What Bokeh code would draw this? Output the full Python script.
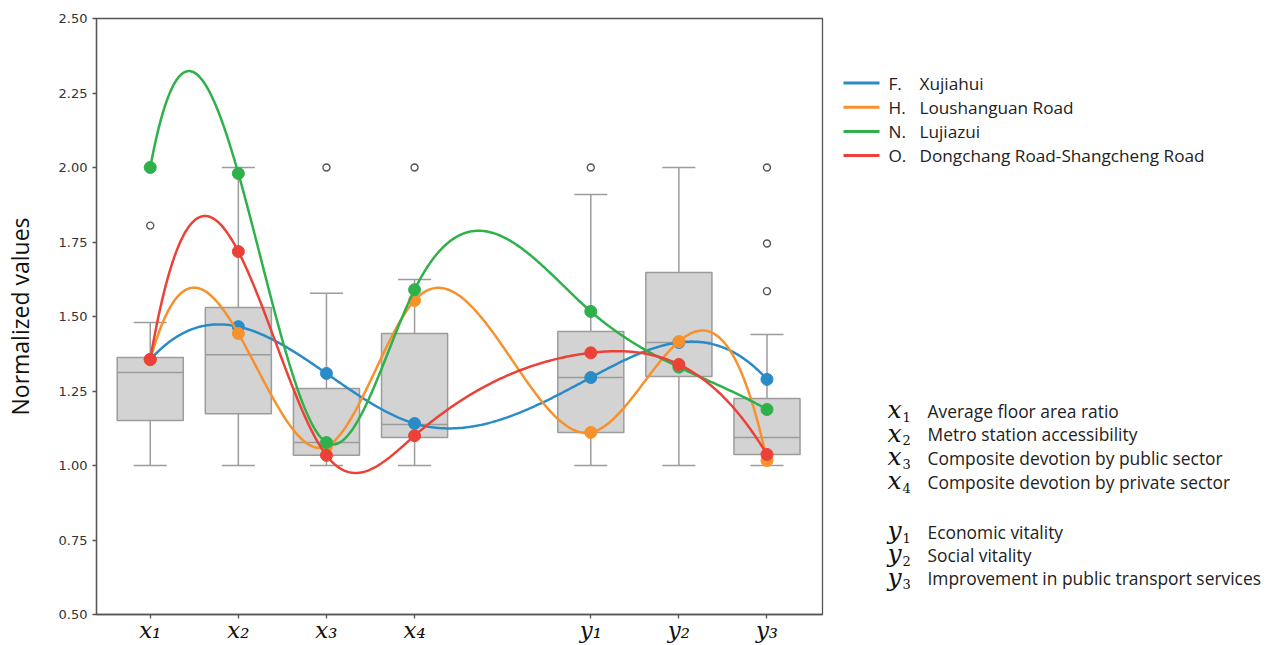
import numpy as np
from bokeh.plotting import figure
from bokeh.models import Range1d, FixedTicker, NumeralTickFormatter, ColumnDataSource
from bokeh.layouts import row
from bokeh.core.properties import value
from bokeh.embed import file_html
from bokeh.resources import INLINE

# ---------------- data ----------------
categories = ["x\u2081", "x\u2082", "x\u2083", "x\u2084", "y\u2081", "y\u2082", "y\u2083"]
positions = [0, 1, 2, 3, 5, 6, 7]

box_q1 = [1.151, 1.174, 1.034, 1.094, 1.111, 1.299, 1.037]
box_med = [1.312, 1.372, 1.077, 1.138, 1.295, 1.413, 1.094]
box_q3 = [1.362, 1.530, 1.258, 1.443, 1.450, 1.648, 1.225]
whisk_lo = [1.00, 1.00, 1.00, 1.00, 1.00, 1.00, 1.00]
whisk_hi = [1.48, 2.00, 1.578, 1.624, 1.909, 2.00, 1.440]

outlier_cat = [0, 2, 3, 4, 6, 6, 6]
outlier_val = [1.805, 2.00, 2.00, 2.00, 2.00, 1.745, 1.585]

series_names = ["F.", "H.", "N.", "O."]
series_labels = ["Xujiahui", "Loushanguan Road", "Lujiazui", "Dongchang Road-Shangcheng Road"]
series_F = [1.355, 1.466, 1.309, 1.141, 1.295, 1.413, 1.289]
series_H = [1.355, 1.443, 1.064, 1.554, 1.111, 1.416, 1.017]
series_N = [2.000, 1.980, 1.077, 1.590, 1.517, 1.330, 1.188]
series_O = [1.356, 1.718, 1.034, 1.100, 1.378, 1.339, 1.037]
series_colors = ["#2a8cc6", "#f6912c", "#2eb14b", "#ec4137"]

var_symbols = ["x", "x", "x", "x", "y", "y", "y"]
var_subs = ["1", "2", "3", "4", "1", "2", "3"]
var_desc = ["Average floor area ratio", "Metro station accessibility",
            "Composite devotion by public sector", "Composite devotion by private sector",
            "Economic vitality", "Social vitality", "Improvement in public transport services"]

y_ticks = [0.5, 0.75, 1.0, 1.25, 1.5, 1.75, 2.0, 2.25, 2.5]


# ------------- not-a-knot cubic spline (smooth curve through the points) -------------
def spline(xs, ys, n=600):
    xs = np.asarray(xs, float)
    ys = np.asarray(ys, float)
    k = len(xs)
    h = np.diff(xs)
    A = np.zeros((k, k))
    b = np.zeros(k)
    A[0, 0] = -h[1]
    A[0, 1] = h[0] + h[1]
    A[0, 2] = -h[0]
    A[-1, -3] = -h[-1]
    A[-1, -2] = h[-2] + h[-1]
    A[-1, -1] = -h[-2]
    for i in range(1, k - 1):
        A[i, i - 1] = h[i - 1]
        A[i, i] = 2 * (h[i - 1] + h[i])
        A[i, i + 1] = h[i]
        b[i] = 6 * ((ys[i + 1] - ys[i]) / h[i] - (ys[i] - ys[i - 1]) / h[i - 1])
    M = np.linalg.solve(A, b)
    xx = np.linspace(xs[0], xs[-1], n)
    idx = np.clip(np.searchsorted(xs, xx) - 1, 0, k - 2)
    x0, x1 = xs[idx], xs[idx + 1]
    hh = x1 - x0
    m0, m1 = M[idx], M[idx + 1]
    y0, y1 = ys[idx], ys[idx + 1]
    yy = (m0 * (x1 - xx) ** 3 / (6 * hh) + m1 * (xx - x0) ** 3 / (6 * hh)
          + (y0 / hh - m0 * hh / 6) * (x1 - xx) + (y1 / hh - m1 * hh / 6) * (xx - x0))
    return xx, yy


H_TOTAL = 645
B_TOP = 18
B_BOTTOM = 31

# ---------------- main figure ----------------
p = figure(width=832, height=H_TOTAL, output_backend="svg", toolbar_location=None,
           x_range=Range1d(-0.61, 7.63), y_range=Range1d(0.5, 2.5),
           min_border_left=95, min_border_right=10, min_border_top=B_TOP, min_border_bottom=B_BOTTOM)
p.grid.visible = False
p.outline_line_color = "#555555"
p.outline_line_width = 1.3
p.background_fill_color = "white"
p.border_fill_color = "white"

half = 0.375
cap = 0.1875
pos = np.array(positions, float)
box_src = ColumnDataSource(dict(left=pos - half, right=pos + half, bottom=box_q1, top=box_q3,
                                med=box_med, lo=whisk_lo, hi=whisk_hi, x=pos,
                                cl=pos - cap, cr=pos + cap))
edge = "#9c9c9c"
p.segment(x0="x", y0="top", x1="x", y1="hi", source=box_src, line_color=edge, line_width=1.5)
p.segment(x0="x", y0="bottom", x1="x", y1="lo", source=box_src, line_color=edge, line_width=1.5)
p.segment(x0="cl", y0="hi", x1="cr", y1="hi", source=box_src, line_color=edge, line_width=1.5)
p.segment(x0="cl", y0="lo", x1="cr", y1="lo", source=box_src, line_color=edge, line_width=1.5)
p.quad(left="left", right="right", bottom="bottom", top="top", source=box_src,
       fill_color="#d3d3d3", line_color=edge, line_width=1.5)
p.segment(x0="left", y0="med", x1="right", y1="med", source=box_src, line_color=edge, line_width=1.5)

p.scatter(x=[positions[i] for i in outlier_cat], y=outlier_val, size=7, marker="circle",
          fill_color="white", line_color="#555555", line_width=1.4)

for vals, col in zip([series_F, series_H, series_N, series_O], series_colors):
    xx, yy = spline(positions, vals)
    p.line(xx, yy, line_color=col, line_width=2.5)
    p.scatter(positions, vals, size=12, marker="circle", fill_color=col, line_color=col)

p.xaxis.ticker = FixedTicker(ticks=positions)
p.xaxis.major_label_overrides = {pp: c for pp, c in zip(positions, categories)}
p.xaxis.major_label_text_font = "DejaVu Serif"
p.xaxis.major_label_text_font_style = "italic"
p.xaxis.major_label_text_font_size = "23px"
p.xaxis.major_label_text_color = "#111111"
p.xaxis.major_label_standoff = -2
p.yaxis.ticker = FixedTicker(ticks=y_ticks)
p.yaxis.formatter = NumeralTickFormatter(format="0.00")
p.yaxis.major_label_text_font = "DejaVu Sans"
p.yaxis.major_label_text_font_size = "13px"
p.yaxis.major_label_text_color = "#333333"
p.yaxis.major_label_standoff = 5
p.yaxis.axis_label = "Normalized values"
p.yaxis.axis_label_text_font = "Open Sans"
p.yaxis.axis_label_text_font_style = "normal"
p.yaxis.axis_label_text_font_size = "23px"
p.yaxis.axis_label_text_color = "#111111"
p.yaxis.axis_label_standoff = 20
for ax in (p.xaxis, p.yaxis):
    ax.axis_line_color = "#555555"
    ax.axis_line_width = 1.3
    ax.major_tick_line_color = "#555555"
    ax.major_tick_line_width = 1.3
    ax.major_tick_out = 4
    ax.major_tick_in = 0
    ax.minor_tick_line_color = None

# ---------------- side figure (legend + variable descriptions) ----------------
q = figure(width=440, height=H_TOTAL, output_backend="svg", toolbar_location=None,
           x_range=Range1d(832, 1272), y_range=Range1d(H_TOTAL - B_BOTTOM, B_TOP),
           x_axis_location=None, y_axis_location=None,
           min_border_left=0, min_border_right=0, min_border_top=B_TOP, min_border_bottom=B_BOTTOM)
q.grid.visible = False
q.outline_line_color = None
q.border_fill_color = "white"

leg_y = [82.5 + 24.2 * i for i in range(len(series_names))]
q.segment(x0=[843] * 4, x1=[879] * 4, y0=leg_y, y1=leg_y, line_color=series_colors, line_width=3)
q.text(x=[888] * 4, y=leg_y, text=series_names, text_font=value("Open Sans"),
       text_font_size="17.2px", text_baseline="middle", text_color="#222222")
q.text(x=[919] * 4, y=leg_y, text=series_labels, text_font=value("Open Sans"),
       text_font_size="17.2px", text_baseline="middle", text_color="#222222")

desc_y = [410 + 23.7 * i for i in range(4)] + [531 + 23.3 * i for i in range(3)]
q.text(x=[887] * 7, y=[d - 1 for d in desc_y], text=var_symbols, text_font=value("DejaVu Serif"),
       text_font_style="italic", text_font_size="25px", text_baseline="middle", text_color="#111111")
q.text(x=[902] * 7, y=[d + 6 for d in desc_y], text=var_subs, text_font=value("DejaVu Serif"),
       text_font_size="13px", text_baseline="middle", text_color="#111111")
q.text(x=[927] * 7, y=desc_y, text=var_desc, text_font=value("Open Sans"),
       text_font_size="17.4px", text_baseline="middle", text_color="#222222")

layout = row(p, q)
open("out.html", "w").write(file_html(layout, INLINE))
